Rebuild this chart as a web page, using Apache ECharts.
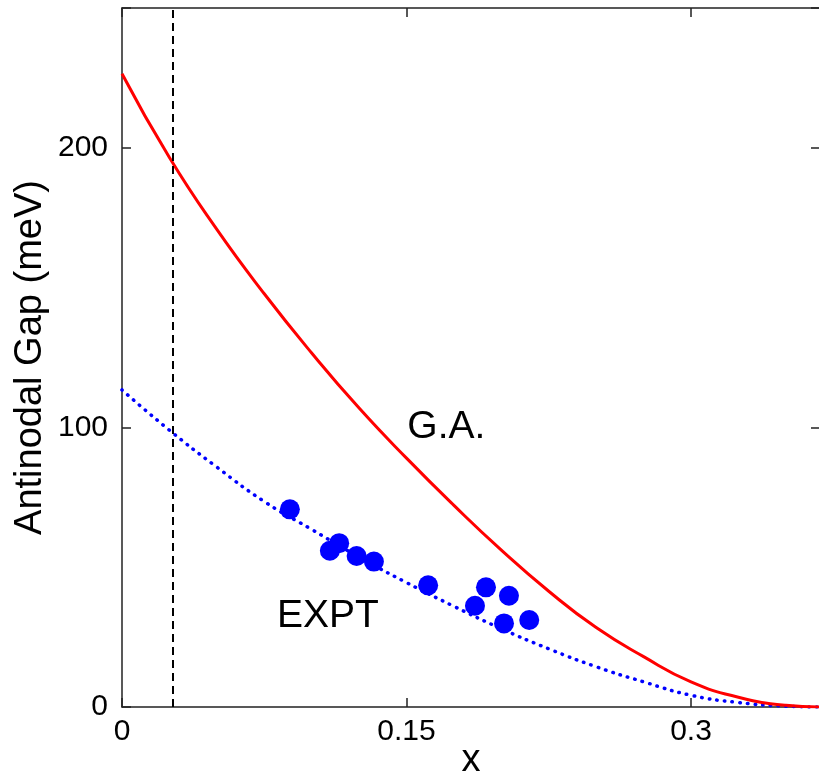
<!DOCTYPE html>
<html>
<head>
<meta charset="utf-8">
<script src="https://cdn.jsdelivr.net/npm/echarts@6/dist/echarts.min.js"></script>
<style>
  html, body { margin: 0; padding: 0; background: #fff; }
  #chart { width: 819px; height: 776px; }
</style>
</head>
<body>
<div id="chart"></div>
<script>
// Gutzwiller-approximation antinodal gap (solid red curve): [x, meV]
const gaCurve = [
  [0, 226.5], [0.025, 196.5], [0.05, 170.8], [0.075, 147.8], [0.1, 126.6],
  [0.125, 106.9], [0.15, 89.0], [0.175, 72.1], [0.2, 56.1], [0.225, 41.4],
  [0.25, 28.4], [0.275, 18.0], [0.3, 9.0], [0.325, 3.5], [0.35, 0.6], [0.368, 0]
];
// Experimental trend (dotted blue curve): [x, meV]
const exptCurve = [
  [0, 113.4], [0.025, 99.0], [0.05, 85.8], [0.075, 73.5], [0.1, 63.5],
  [0.125, 53.6], [0.15, 44.5], [0.175, 36.0], [0.2, 28.0], [0.225, 20.8],
  [0.25, 14.4], [0.275, 9.0], [0.3, 4.2], [0.325, 1.6], [0.35, 0.3], [0.368, 0]
];
// Measured antinodal gaps (filled blue circles): [x, meV]
const exptPoints = [
  [0.0885, 70.7], [0.1096, 55.9], [0.1145, 58.6], [0.1237, 54.0],
  [0.1328, 52.0], [0.1614, 43.5], [0.1919, 42.8], [0.1861, 36.2],
  [0.2040, 39.8], [0.2014, 29.9], [0.2147, 31.1]
];
// Vertical reference doping (dashed line)
const dopingMark = 0.0267;
// Curve captions: [x, meV, text]
const captions = [
  [0.171, 100, 'G.A.'],
  [0.1086, 32.5, 'EXPT']
];
// Axis ranges and tick spacing
const xRange = [0, 0.368], xStep = 0.15;
const yRange = [0, 250], yStep = 100;

const FONT = "'Liberation Sans', Arial, Helvetica, sans-serif";
const axisLineStyle = { color: '#222', width: 1.5 };
const tickStyle = { show: true, inside: true, length: 9, lineStyle: { color: '#222', width: 1.5 } };

function onStep(v, step) {
  const k = v / step;
  return Math.abs(k - Math.round(k)) < 1e-6;
}

const chart = echarts.init(document.getElementById('chart'), null, { renderer: 'canvas' });
chart.setOption({
  backgroundColor: '#fff',
  animation: false,
  grid: { left: 122, top: 8, width: 698, height: 699, containLabel: false, outerBoundsMode: 'none' },
  xAxis: [
    {
      type: 'value', position: 'bottom', min: xRange[0], max: xRange[1], interval: xStep,
      name: 'x', nameLocation: 'middle', nameGap: 35, nameMoveOverlap: false,
      nameTextStyle: { fontFamily: FONT, fontSize: 38, color: '#000', verticalAlign: 'top' },
      axisLine: { show: true, onZero: false, lineStyle: axisLineStyle },
      axisTick: tickStyle,
      splitLine: { show: false },
      axisLabel: {
        fontFamily: FONT, fontSize: 30, color: '#000', margin: 10,
        formatter: v => onStep(v, xStep) && v < xRange[1] ? String(+v.toFixed(2)) : ''
      }
    },
    {
      type: 'value', position: 'top', min: xRange[0], max: xRange[1], interval: xStep,
      axisLine: { show: true, onZero: false, lineStyle: axisLineStyle },
      axisTick: tickStyle, axisLabel: { show: false }, splitLine: { show: false }
    }
  ],
  yAxis: [
    {
      type: 'value', position: 'left', min: yRange[0], max: yRange[1], interval: yStep,
      name: 'Antinodal Gap (meV)', nameLocation: 'middle', nameGap: 72, nameMoveOverlap: false,
      nameTextStyle: { fontFamily: FONT, fontSize: 38, color: '#000' },
      axisLine: { show: true, onZero: false, lineStyle: axisLineStyle },
      axisTick: tickStyle,
      splitLine: { show: false },
      axisLabel: {
        fontFamily: FONT, fontSize: 30, color: '#000', margin: 14,
        formatter: v => onStep(v, yStep) ? String(v) : ''
      }
    },
    {
      type: 'value', position: 'right', min: yRange[0], max: yRange[1], interval: yStep,
      axisLine: { show: true, onZero: false, lineStyle: axisLineStyle },
      axisTick: tickStyle, axisLabel: { show: false }, splitLine: { show: false }
    }
  ],
  series: [
    {
      name: 'G.A.', type: 'line', data: gaCurve, smooth: 0.5,
      showSymbol: false, symbol: 'none', z: 3,
      lineStyle: { color: '#ff0000', width: 3 },
      markLine: {
        silent: true, symbol: 'none', precision: 4, label: { show: false },
        lineStyle: { color: '#000', width: 2, type: [8, 5] },
        data: [{ xAxis: dopingMark }]
      }
    },
    {
      name: 'EXPT curve', type: 'line', data: exptCurve, smooth: 0.5,
      showSymbol: false, symbol: 'none', z: 2,
      lineStyle: { color: '#0000ff', width: 3.5, type: [0.5, 7.2], cap: 'round' }
    },
    {
      name: 'EXPT', type: 'scatter', data: exptPoints, symbol: 'circle', symbolSize: 20, z: 4,
      itemStyle: { color: '#0000ff', opacity: 1 }
    },
    {
      name: 'captions', type: 'scatter', symbolSize: 0, silent: true, z: 5,
      itemStyle: { opacity: 1 },
      data: captions.map(c => ({ value: [c[0], c[1]], name: c[2] })),
      label: {
        show: true, position: 'inside', formatter: p => p.name,
        fontFamily: FONT, fontSize: 39, color: '#000'
      }
    }
  ]
});
</script>
</body>
</html>
